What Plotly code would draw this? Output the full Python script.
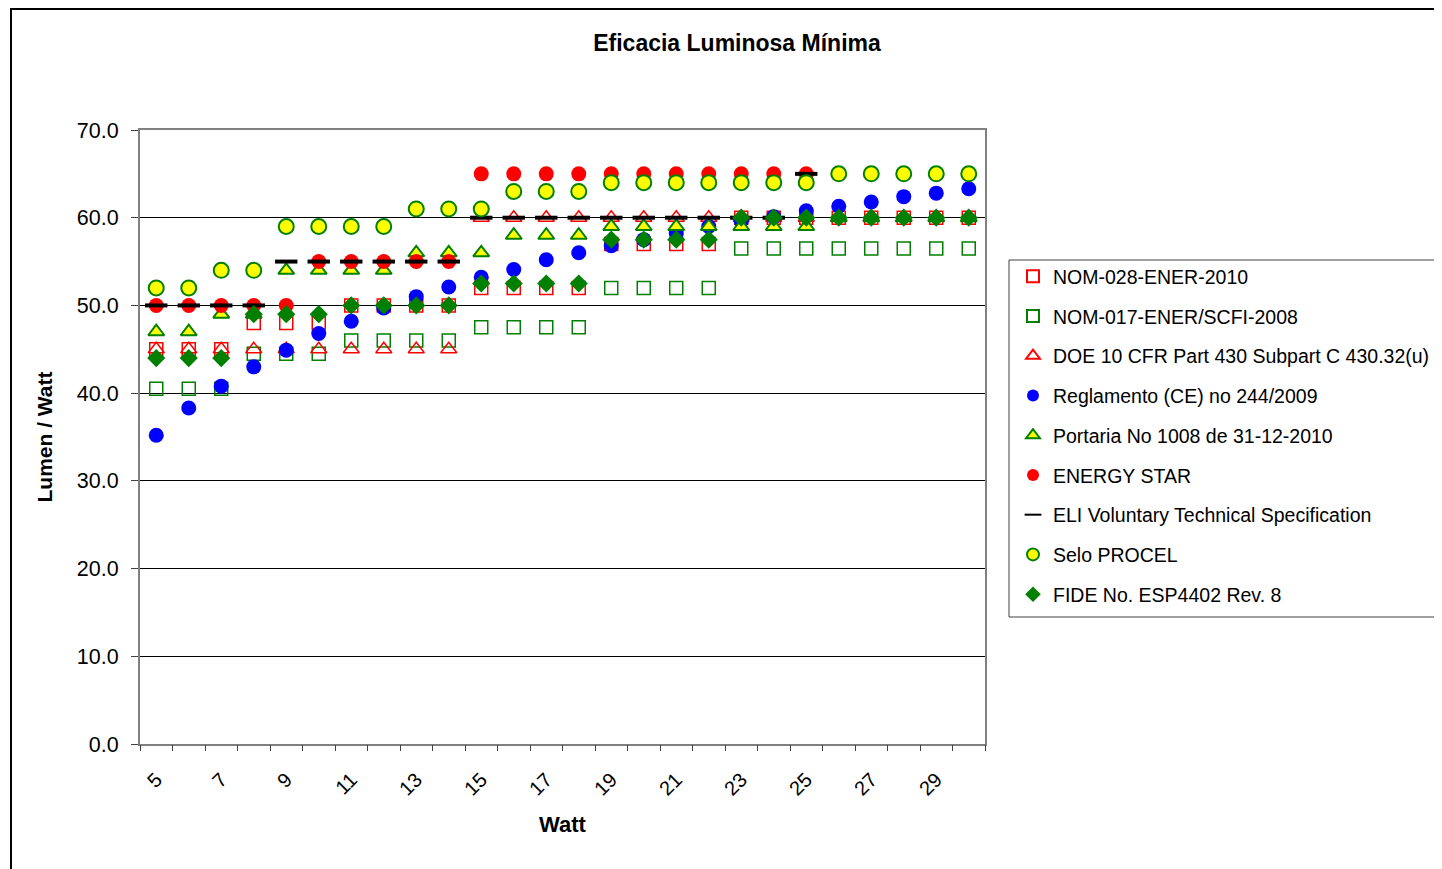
import plotly.graph_objects as go

watts = list(range(5, 31))

nom028 = [45, 45, 45, 48, 48, 48, 50, 50, 50, 50, 52, 52, 52, 52, 57, 57, 57, 57, 60, 60, 60, 60, 60, 60, 60, 60]
nom017 = [40.5, 40.5, 40.5, 44.5, 44.5, 44.5, 46, 46, 46, 46, 47.5, 47.5, 47.5, 47.5, 52, 52, 52, 52,
          56.5, 56.5, 56.5, 56.5, 56.5, 56.5, 56.5, 56.5]
doe = [45, 45, 45, 45, 45, 45, 45, 45, 45, 45, 60, 60, 60, 60, 60, 60, 60, 60, 60, 60, 60, 60, 60, 60, 60, 60]
reglamento = [35.2, 38.3, 40.8, 43.0, 44.9, 46.8, 48.2, 49.7, 51.0, 52.1, 53.2, 54.1, 55.2, 56.0, 56.8, 57.5,
              58.2, 59.0, 59.6, 60.1, 60.8, 61.3, 61.8, 62.4, 62.8, 63.3]
portaria = [47, 47, 49, 49, 54, 54, 54, 54, 56, 56, 56, 58, 58, 58, 59, 59, 59, 59, 59, 59, 59, 60, 60, 60, 60, 60]
energy_star = [50, 50, 50, 50, 50, 55, 55, 55, 55, 55, 65, 65, 65, 65, 65, 65, 65, 65, 65, 65, 65,
               None, None, None, None, None]
eli = [50, 50, 50, 50, 55, 55, 55, 55, 55, 55, 60, 60, 60, 60, 60, 60, 60, 60, 60, 60, 65,
       None, None, None, None, None]
procel = [52, 52, 54, 54, 59, 59, 59, 59, 61, 61, 61, 63, 63, 63, 64, 64, 64, 64, 64, 64, 64, 65, 65, 65, 65, 65]
fide = [44, 44, 44, 49, 49, 49, 50, 50, 50, 50, 52.5, 52.5, 52.5, 52.5, 57.5, 57.5, 57.5, 57.5,
        60, 60, 60, 60, 60, 60, 60, 60]

x_labels = [str(w) for w in range(5, 30, 2)]
y_ticks = [0, 10, 20, 30, 40, 50, 60, 70]

series = [
    ("NOM-028-ENER-2010", nom028, dict(symbol="square-open", size=13, color="#FF0000", line=dict(width=1.5))),
    ("NOM-017-ENER/SCFI-2008", nom017, dict(symbol="square-open", size=13, color="#008000", line=dict(width=1.5))),
    ("DOE 10 CFR Part 430 Subpart C 430.32(u)", doe, dict(symbol="triangle-up-open", size=14, color="#FF0000", line=dict(width=1.5))),
    ("Reglamento (CE) no 244/2009", reglamento, dict(symbol="circle", size=15, color="#0000FF", line=dict(width=0))),
    ("Portaria No 1008 de 31-12-2010", portaria, dict(symbol="triangle-up", size=14, color="#FFFF00", line=dict(width=2, color="#008000"))),
    ("ENERGY STAR", energy_star, dict(symbol="circle", size=15, color="#FF0000", line=dict(width=0))),
    ("ELI Voluntary Technical Specification", eli, dict(symbol="line-ew", size=16, color="#000000", line=dict(width=4, color="#000000"))),
    ("Selo PROCEL", procel, dict(symbol="circle", size=15, color="#FFFF00", line=dict(width=2, color="#008000"))),
    ("FIDE No. ESP4402 Rev. 8", fide, dict(symbol="diamond", size=14, color="#008000", line=dict(width=0))),
]

fig = go.Figure()
for i, (name, vals, marker) in enumerate(series):
    fig.add_trace(go.Scatter(x=watts, y=vals, mode="markers", name=name, marker=marker,
                             legendgroup=f"g{i}", cliponaxis=False))

# invisible trace on second axis for boundary tick marks
fig.add_trace(go.Scatter(x=[4.5, 30.5], y=[0, 0], xaxis="x2", mode="markers",
                         marker=dict(opacity=0), showlegend=False, hoverinfo="skip"))

# page body has an 8px offset; figure coordinates = reference coordinates - 8
W, H = 1434, 861
L, T = 132, 122
PW, PH = 845, 614
R = W - L - PW
B = H - T - PH

def px(xr):
    return (xr - 8 - L) / PW

def py(yr):
    return (T + PH - (yr - 8)) / PH

font = "Liberation Sans, Arial, sans-serif"
fig.update_layout(
    width=W, height=H, autosize=False,
    paper_bgcolor="white", plot_bgcolor="white",
    margin=dict(l=L, r=R, t=T, b=B, autoexpand=False),
    font=dict(family=font, color="black", size=21),
    title=dict(text="<b>Eficacia Luminosa Mínima</b>", x=(737 - 8) / W, xanchor="center",
               y=1 - (43 - 8) / H, yanchor="middle", font=dict(size=23, family=font)),
    xaxis=dict(range=[4.5, 30.5], tickmode="array", tickvals=list(range(5, 30, 2)), ticktext=x_labels,
               tickangle=-45, ticks="", showgrid=False, zeroline=False,
               showline=True, linecolor="#808080", linewidth=2, mirror=True,
               ticklabelstandoff=14, tickfont=dict(size=20), automargin=False,
               title=dict(text="<b>Watt</b>", font=dict(size=22), standoff=18)),
    xaxis2=dict(range=[4.5, 30.5], overlaying="x", tickmode="array", tickvals=[4.5 + k for k in range(27)],
                ticks="outside", ticklen=6, tickcolor="#404040", showticklabels=False,
                showgrid=False, zeroline=False, anchor="y", side="bottom"),
    yaxis=dict(range=[0, 70], tickmode="array", tickvals=y_ticks, ticktext=[f"{v:.1f}" for v in y_ticks],
               ticks="outside", ticklen=7, tickcolor="#404040",
               showgrid=True, gridcolor="black", gridwidth=1, zeroline=False,
               showline=True, linecolor="#808080", linewidth=2, mirror=True,
               tickfont=dict(size=21.5), ticklabelstandoff=8, automargin=False,
               title=dict(text="<b>Lumen / Watt</b>", font=dict(size=21), standoff=18)),
    legend=dict(x=px(1013), xanchor="left", y=py(257), yanchor="top",
                bgcolor="rgba(0,0,0,0)", borderwidth=0,
                font=dict(size=19.5, family=font), tracegroupgap=11.4, itemsizing="constant",
                traceorder="grouped", itemwidth=30),
    shapes=[
        dict(type="rect", xref="paper", yref="paper",
             x0=px(11), x1=px(1600),
             y0=py(1000), y1=py(9),
             line=dict(color="black", width=2), fillcolor="rgba(0,0,0,0)", layer="below"),
        dict(type="rect", xref="paper", yref="paper",
             x0=px(1009), x1=px(1600),
             y0=py(617), y1=py(260),
             line=dict(color="#404040", width=1), fillcolor="white", layer="below"),
    ],
)

fig.write_html("out.html")
